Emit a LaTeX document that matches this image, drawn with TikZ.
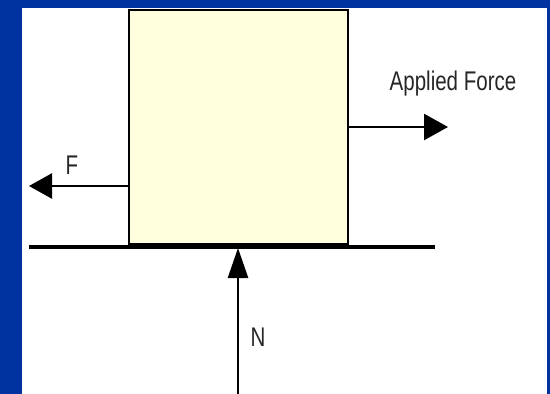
\documentclass[tikz,border=0pt]{standalone}
\usepackage{fontspec}
\setmainfont{Liberation Sans}
\usetikzlibrary{arrows.meta}
\definecolor{slideblue}{RGB}{0,51,160}
\definecolor{boxfill}{RGB}{255,255,221}
\tikzset{
  lbl/.style={inner sep=0pt, font=\fontsize{27}{27}\selectfont, xscale=0.76, transform shape, text=black!85},
  force/.style={line width=2.5pt},
}
\begin{document}
\begin{tikzpicture}[x=1pt,y=-1pt]
\useasboundingbox (0,0) rectangle (550,394);
\fill[slideblue] (0,0) rectangle (550,394);
\fill[white] (22,8) rectangle (547,394);
% block
\node[draw=black, line width=1.5pt, fill=boxfill, minimum width=219pt, minimum height=234pt, inner sep=0pt, anchor=north west] (block) at (128,9) {};
% ground
\coordinate (gl) at (29,247);
\coordinate (gr) at (435,247);
\draw[line width=4pt] (gl) -- (gr);
% applied force
\coordinate (aftip) at (448,127);
\draw[force, -{Triangle[length=24pt,width=26pt]}] (block.east |- aftip) -- (aftip);
\node[lbl] (aflabel) at (453,84) {Applied Force};
% friction
\coordinate (ftip) at (29,186);
\draw[force, -{Triangle[length=23pt,width=25pt]}] (block.west |- ftip) -- (ftip);
\node[lbl] (flabel) at (72,165) {F};
% normal
\coordinate (nbase) at (238,394);
\coordinate (ntip) at (238,248);
\draw[force, -{Triangle[length=30pt,width=20pt]}] (nbase) -- (ntip);
\node[lbl] (nlabel) at (258,337) {N};
\end{tikzpicture}
\end{document}
